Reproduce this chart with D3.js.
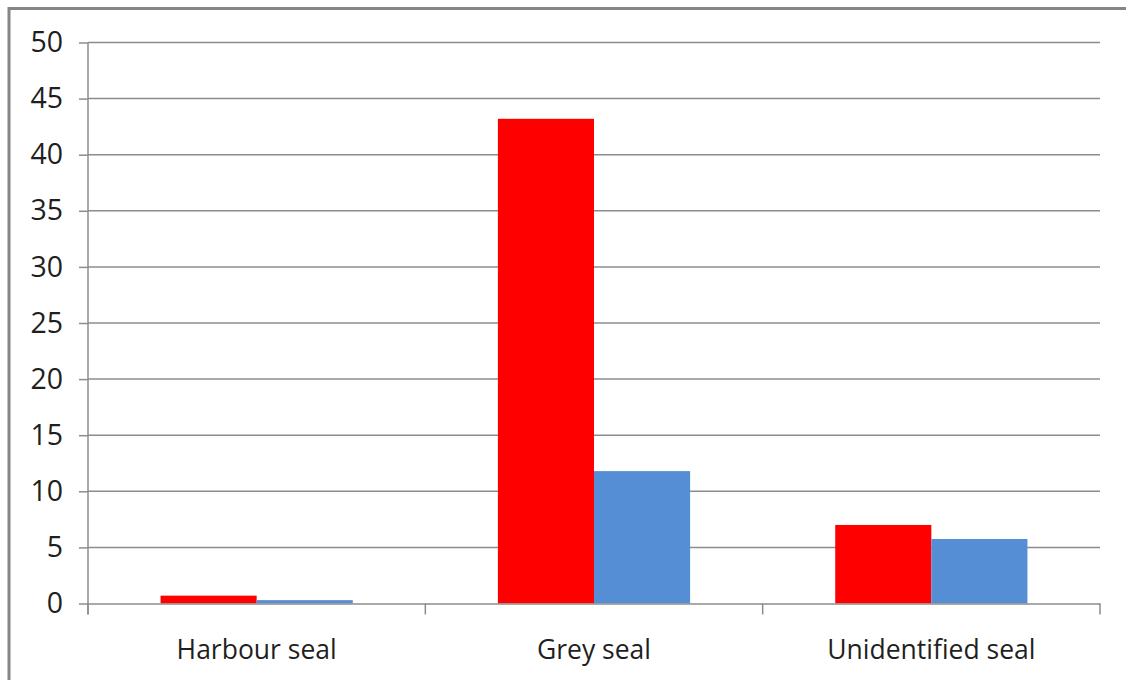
<!DOCTYPE html>
<html>
<head>
<meta charset="utf-8">
<script src="https://cdn.jsdelivr.net/npm/d3@7"></script>
<style>
  html, body { margin: 0; padding: 0; background: #fff; }
  svg { display: block; }
</style>
</head>
<body>
<svg id="plot"></svg>
<script>
const WIDTH = 1126;
const HEIGHT = 680;

// Chart data
const categories = ['Harbour seal', 'Grey seal', 'Unidentified seal'];
const seriesNames = ['Series 1', 'Series 2'];
const series1 = [0.7, 43.2, 7.0];
const series2 = [0.3, 11.8, 5.75];
const yTicks = [0, 5, 10, 15, 20, 25, 30, 35, 40, 45, 50];
const seriesColors = ['#ff0000', '#558ed5'];

const plot = { left: 88, right: 1100, top: 42.5, bottom: 603.5 };

function draw() {
    let rows = categories.map((c, i) => ({
        category: c,
        values: [series1[i], series2[i]],
    }));

    let svg = d3.select('#plot')
        .attr('width', WIDTH)
        .attr('height', HEIGHT);

    // Outer frame (top and left edges visible)
    svg.append('path')
        .attr('d', `M9,${HEIGHT} V8.5 H${WIDTH}`)
        .attr('fill', 'none')
        .attr('stroke', '#868686')
        .attr('stroke-width', 3);

    let x0 = d3.scaleBand()
        .domain(categories)
        .range([plot.left, plot.right])
        .paddingInner(0)
        .paddingOuter(0);

    let x1 = d3.scaleBand()
        .domain(seriesNames)
        .range([0, x0.bandwidth()])
        .paddingInner(0)
        .paddingOuter(0.755);

    let y = d3.scaleLinear()
        .domain([0, 50])
        .range([plot.bottom, plot.top]);

    // Horizontal gridlines
    svg.append('g')
        .selectAll('line')
        .data(yTicks.filter(t => t > 0))
        .enter().append('line')
            .attr('x1', plot.left)
            .attr('x2', plot.right)
            .attr('y1', d => y(d))
            .attr('y2', d => y(d))
            .attr('stroke', '#8c8c8c')
            .attr('stroke-width', 1.5);

    // Bars
    svg.append('g')
        .selectAll('g')
        .data(rows)
        .enter().append('g')
            .attr('transform', d => `translate(${x0(d.category)},0)`)
        .selectAll('rect')
        .data(d => d.values.map((v, i) => ({ name: seriesNames[i], value: v, i: i })))
        .enter().append('rect')
            .attr('x', d => x1(d.name))
            .attr('width', x1.bandwidth())
            .attr('y', d => y(d.value))
            .attr('height', d => y(0) - y(d.value))
            .attr('fill', d => seriesColors[d.i]);

    // Y axis
    let yAxis = svg.append('g')
        .attr('transform', `translate(${plot.left},0)`)
        .call(d3.axisLeft(y).tickValues(yTicks).tickSize(9).tickPadding(16).tickSizeOuter(0));
    yAxis.select('.domain').remove();
    yAxis.selectAll('.tick line').attr('stroke', '#8c8c8c').attr('stroke-width', 1.5);
    yAxis.selectAll('.tick text')
        .attr('font-family', '"Open Sans", sans-serif')
        .attr('font-size', 28.5)
        .attr('fill', '#1f1f1f');
    yAxis.append('line')
        .attr('x1', 0).attr('x2', 0)
        .attr('y1', plot.top).attr('y2', plot.bottom + 11)
        .attr('stroke', '#8c8c8c')
        .attr('stroke-width', 1.5);

    // X axis
    let xAxis = svg.append('g')
        .attr('transform', `translate(0,${plot.bottom})`)
        .call(d3.axisBottom(x0).tickSize(0).tickPadding(37));
    xAxis.select('.domain')
        .attr('stroke', '#8c8c8c')
        .attr('stroke-width', 1.5);
    xAxis.selectAll('.tick text')
        .attr('font-family', '"Open Sans", sans-serif')
        .attr('font-size', 26.5)
        .attr('fill', '#1f1f1f');

    // Category separator ticks
    let separators = categories.map(c => x0(c)).concat([x0.range()[1]]);
    xAxis.append('g')
        .selectAll('line')
        .data(separators)
        .enter().append('line')
            .attr('x1', d => d)
            .attr('x2', d => d)
            .attr('y1', 0)
            .attr('y2', 11)
            .attr('stroke', '#8c8c8c')
            .attr('stroke-width', 1.5);
}

window.onload = draw;
</script>
</body>
</html>
